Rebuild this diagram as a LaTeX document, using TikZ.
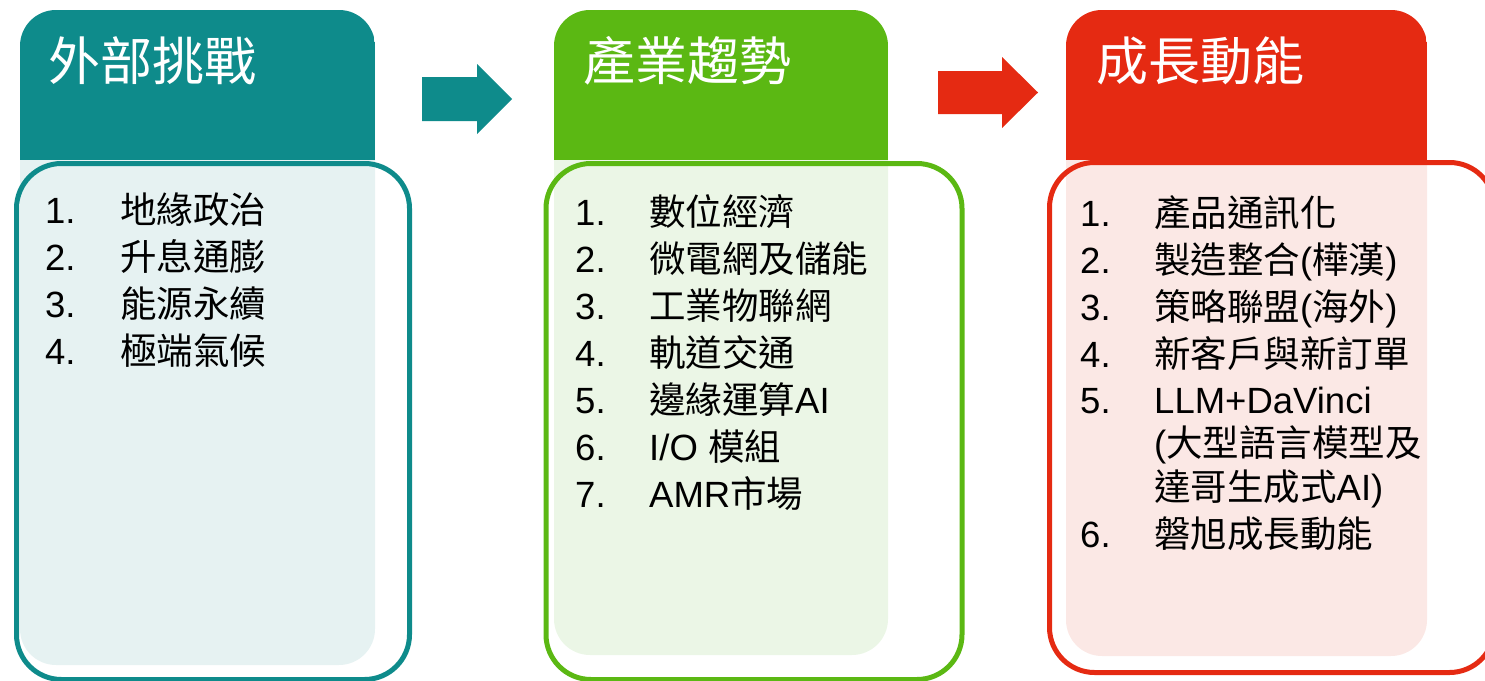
\documentclass[tikz,border=0pt]{standalone}
\usepackage{fontspec}
\setmainfont{Liberation Sans}
\newfontfamily\cjk{Noto Sans CJK TC}
\definecolor{tealD}{HTML}{0E8B8B}
\definecolor{tealL}{HTML}{E6F2F2}
\definecolor{greenD}{HTML}{5BB813}
\definecolor{greenL}{HTML}{EBF6E6}
\definecolor{redD}{HTML}{E52A12}
\definecolor{redL}{HTML}{FBE8E5}
\tikzset{
  backbox/.style 2 args={rectangle, rounded corners=36pt, inner sep=0pt, outer sep=0pt,
    anchor=north west, fill=#2,
    path picture={\fill[#1, sharp corners] (path picture bounding box.north west) rectangle ([yshift=-150pt]path picture bounding box.north east);}},
  framebox/.style={rectangle, draw=#1, line width=5pt, rounded corners=45pt, inner sep=0pt,
    anchor=north west},
  title/.style={anchor=base west, inner sep=0pt, text=white, font=\fontsize{52}{52}\selectfont\cjk},
  item/.style={anchor=base west, inner sep=0pt, text=black, font=\fontsize{36.5}{36.5}\selectfont},
}
\begin{document}
\begin{tikzpicture}[x=1pt,y=-1pt]
\useasboundingbox (0,0) rectangle (1485,680);

% ---- column 1
\node[backbox={tealD}{tealL}, minimum width=355pt, minimum height=655pt] (b1) at (20,10) {};
\node[framebox=tealD, minimum width=393pt, minimum height=516pt] (f1) at (14,161) {};
\node[title] (t1) at (48,80) {外部挑戰};
\node[item] (n11) at (45,223) {1.};
\node[item] (i11) at (120,223) {\cjk 地緣政治};
\node[item] (n12) at (45,270) {2.};
\node[item] (i12) at (120,270) {\cjk 升息通膨};
\node[item] (n13) at (45,317) {3.};
\node[item] (i13) at (120,317) {\cjk 能源永續};
\node[item] (n14) at (45,364) {4.};
\node[item] (i14) at (120,364) {\cjk 極端氣候};

% ---- column 2
\node[backbox={greenD}{greenL}, minimum width=334pt, minimum height=645pt] (b2) at (554,10) {};
\node[framebox=greenD, minimum width=416pt, minimum height=516pt] (f2) at (543.5,161) {};
\node[title] (t2) at (583,80) {產業趨勢};
\node[item] (n21) at (575,225) {1.};
\node[item] (i21) at (649,225) {\cjk 數位經濟};
\node[item] (n22) at (575,272) {2.};
\node[item] (i22) at (649,272) {\cjk 微電網及儲能};
\node[item] (n23) at (575,319) {3.};
\node[item] (i23) at (649,319) {\cjk 工業物聯網};
\node[item] (n24) at (575,366) {4.};
\node[item] (i24) at (649,366) {\cjk 軌道交通};
\node[item] (n25) at (575,413) {5.};
\node[item] (i25) at (649,413) {{\cjk 邊緣運算}AI};
\node[item] (n26) at (575,460) {6.};
\node[item] (i26) at (649,460) {I/O {\cjk 模組}};
\node[item] (n27) at (575,507) {7.};
\node[item] (i27) at (649,507) {AMR{\cjk 市場}};

% ---- column 3
\node[backbox={redD}{redL}, minimum width=361pt, minimum height=646pt] (b3) at (1066,10) {};
\node[framebox=redD, minimum width=445pt, minimum height=510pt] (f3) at (1047,160) {};
\node[title] (t3) at (1096,80) {成長動能};
\node[item] (n31) at (1080,226) {1.};
\node[item] (i31) at (1154,226) {\cjk 產品通訊化};
\node[item] (n32) at (1080,273) {2.};
\node[item] (i32) at (1154,273) {{\cjk 製造整合}({\cjk 樺漢})};
\node[item] (n33) at (1080,320) {3.};
\node[item] (i33) at (1154,320) {{\cjk 策略聯盟}({\cjk 海外})};
\node[item] (n34) at (1080,367) {4.};
\node[item] (i34) at (1154,367) {\cjk 新客戶與新訂單};
\node[item] (n35) at (1080,413) {5.};
\node[item] (i35) at (1154,413) {LLM+DaVinci};
\node[item] (i35b) at (1154,456) {({\cjk 大型語言模型及}};
\node[item] (i35c) at (1154,500) {{\cjk 達哥生成式}AI)};
\node[item] (n36) at (1080,547) {6.};
\node[item] (i36) at (1154,547) {\cjk 磐旭成長動能};

% ---- block arrows
\coordinate (a1) at (422,99);
\fill[tealD] (a1) ++(0,-22) -- ++(55,0) -- ++(0,-13) -- ++(35,35) -- ++(-35,35) -- ++(0,-13) -- ++(-55,0) -- cycle;
\coordinate (a2) at (938,92);
\fill[redD] (a2) ++(0,-21) -- ++(64,0) -- ++(0,-14) -- ++(36,35.5) -- ++(-36,35.5) -- ++(0,-14) -- ++(-64,0) -- cycle;
\end{tikzpicture}
\end{document}
